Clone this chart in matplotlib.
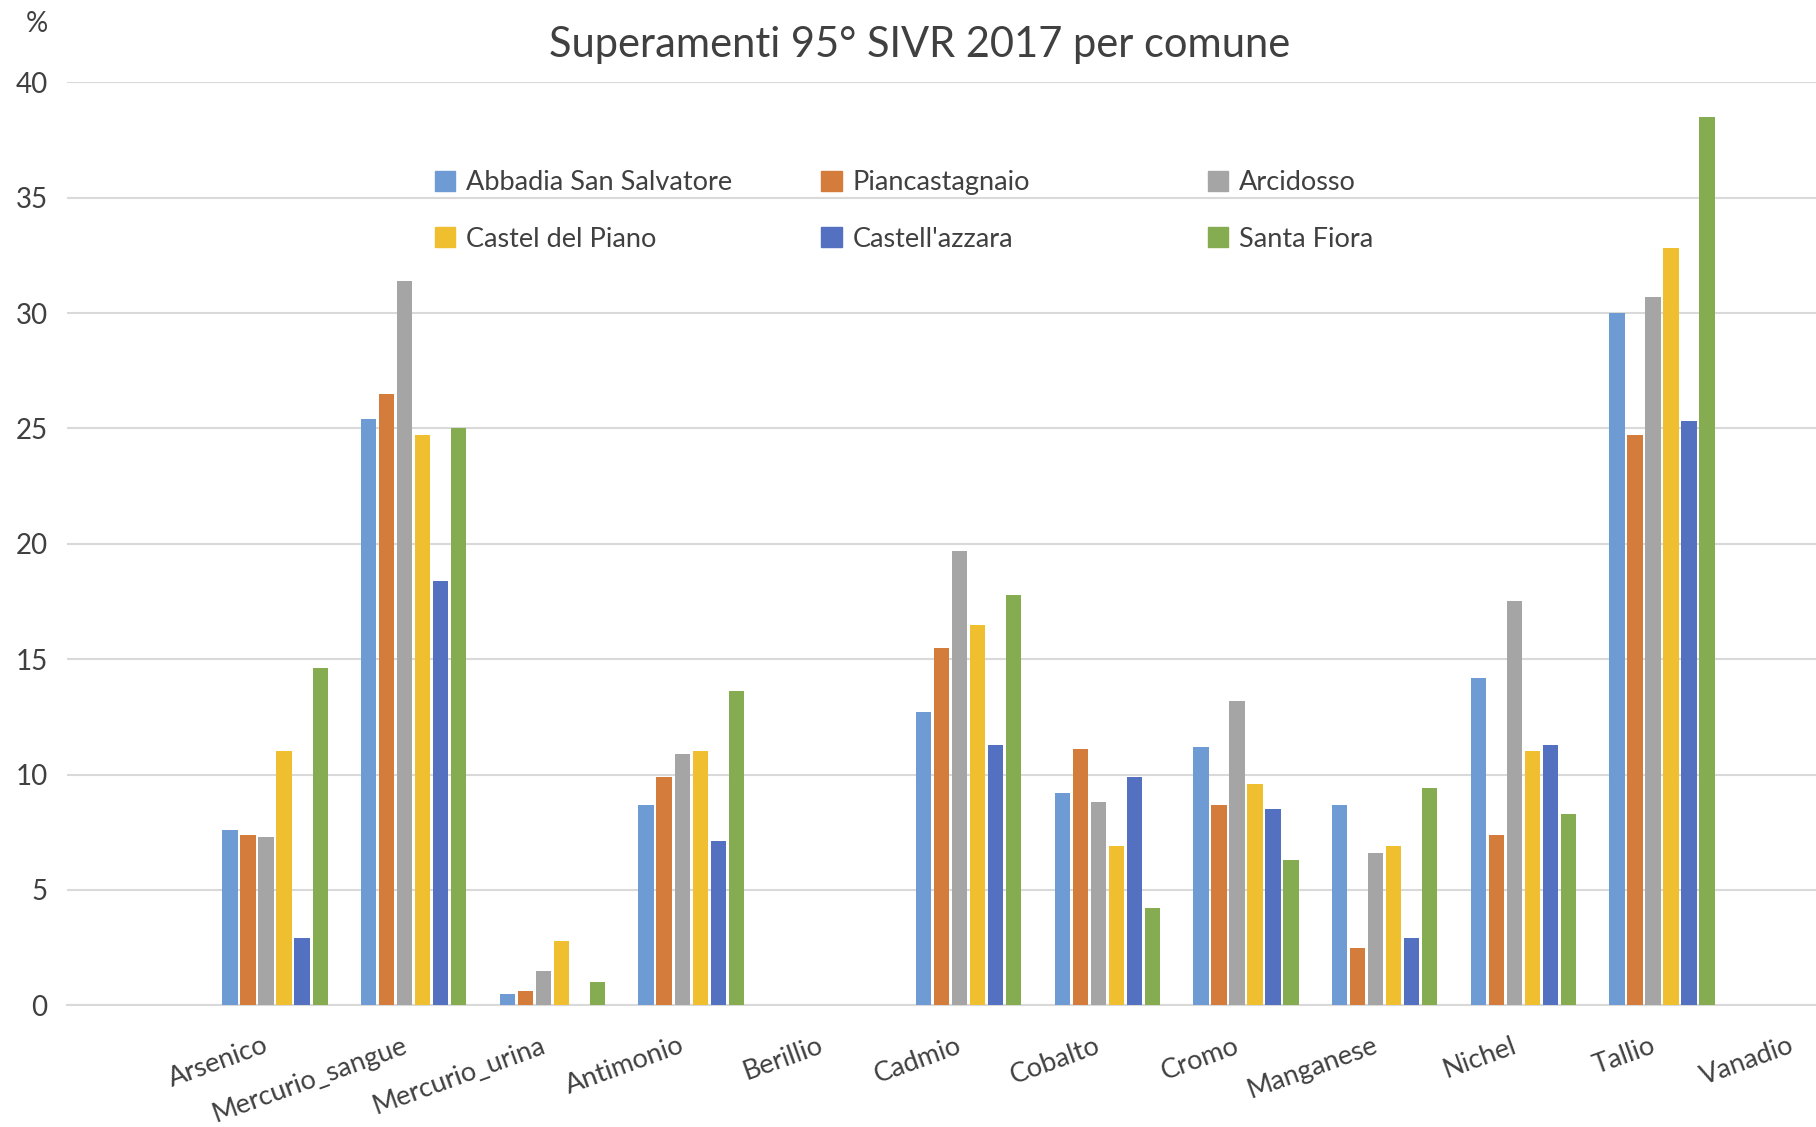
import numpy as np
import matplotlib
matplotlib.use("Agg")
import matplotlib.pyplot as plt
import matplotlib.transforms as mtransforms
from matplotlib.patches import Patch

# categorie (metalli) e serie (comuni)
categorie = ["Arsenico", "Mercurio_sangue", "Mercurio_urina", "Antimonio", "Berillio",
             "Cadmio", "Cobalto", "Cromo", "Manganese", "Nichel", "Tallio", "Vanadio"]
comuni = ["Abbadia San Salvatore", "Piancastagnaio", "Arcidosso",
          "Castel del Piano", "Castell'azzara", "Santa Fiora"]

abbadia = [7.6, 25.4, 0.5, 8.7, 0, 12.7, 9.2, 11.2, 8.7, 14.2, 30.0, 0]
piancastagnaio = [7.4, 26.5, 0.6, 9.9, 0, 15.5, 11.1, 8.7, 2.5, 7.4, 24.7, 0]
arcidosso = [7.3, 31.4, 1.5, 10.9, 0, 19.7, 8.8, 13.2, 6.6, 17.5, 30.7, 0]
castel_del_piano = [11.0, 24.7, 2.8, 11.0, 0, 16.5, 6.9, 9.6, 6.9, 11.0, 32.8, 0]
castellazzara = [2.9, 18.4, 0, 7.1, 0, 11.3, 9.9, 8.5, 2.9, 11.3, 25.3, 0]
santa_fiora = [14.6, 25.0, 1.0, 13.6, 0, 17.8, 4.2, 6.3, 9.4, 8.3, 38.5, 0]

serie = [abbadia, piancastagnaio, arcidosso, castel_del_piano, castellazzara, santa_fiora]
colori = ["#6f9bd4", "#d47c3b", "#a5a5a5", "#efbf2f", "#5470c0", "#85ac50"]

plt.rcParams["font.family"] = ["Lato", "DejaVu Sans"]
testo = "#404040"

fig = plt.figure(figsize=(18.16, 11.27), dpi=100)
ax = fig.add_axes([0.0369, 0.108, 0.9631, 0.819])

x = np.arange(len(categorie))
passo = 0.13
larghezza = 0.11
for j, (valori, col) in enumerate(zip(serie, colori)):
    ax.bar(x + (j - 2.5) * passo, valori, width=larghezza, color=col, zorder=3)

ax.set_xlim(-1.5, 11.11)
ax.set_ylim(0, 40)
ax.set_yticks(np.arange(0, 41, 5))
ax.grid(axis="y", color="#d9d9d9", linewidth=1.5, zorder=0)
for s in ["top", "right", "left"]:
    ax.spines[s].set_visible(False)
ax.spines["bottom"].set_color("#d9d9d9")
ax.spines["bottom"].set_linewidth(1.5)

ax.tick_params(axis="y", length=0, pad=14, labelsize=20, labelcolor=testo)
ax.tick_params(axis="x", length=0, pad=20, labelsize=19.5, labelcolor=testo)
ax.set_xticks(x)
ax.set_xticklabels(categorie, rotation=20, ha="right", rotation_mode="anchor")
# sposta le etichette un po' a sinistra
sposta = mtransforms.ScaledTranslation(-0.12, 0, fig.dpi_scale_trans)
for lab in ax.get_xticklabels():
    lab.set_transform(lab.get_transform() + sposta)

fig.text(0.5066, 0.960, "Superamenti 95° SIVR 2017 per comune", ha="center", va="center",
         fontsize=30, color=testo)
fig.text(0.0205, 0.979, "%", ha="center", va="center", fontsize=20, color=testo)

# legenda a colonne di larghezza fissa (come in Excel)
colonne_x = [0.2393, 0.4523, 0.6653]
for c in range(3):
    maniglie = [Patch(color=colori[c]), Patch(color=colori[c + 3])]
    leg = fig.legend(maniglie, [comuni[c], comuni[c + 3]], loc="upper left",
                     bbox_to_anchor=(colonne_x[c], 0.849), frameon=False,
                     fontsize=19.5, handlelength=0.75, handleheight=0.75,
                     handletextpad=0.4, labelspacing=1.16, borderpad=0, borderaxespad=0)
    for t in leg.get_texts():
        t.set_color(testo)

fig.savefig("out.png", dpi=100)
